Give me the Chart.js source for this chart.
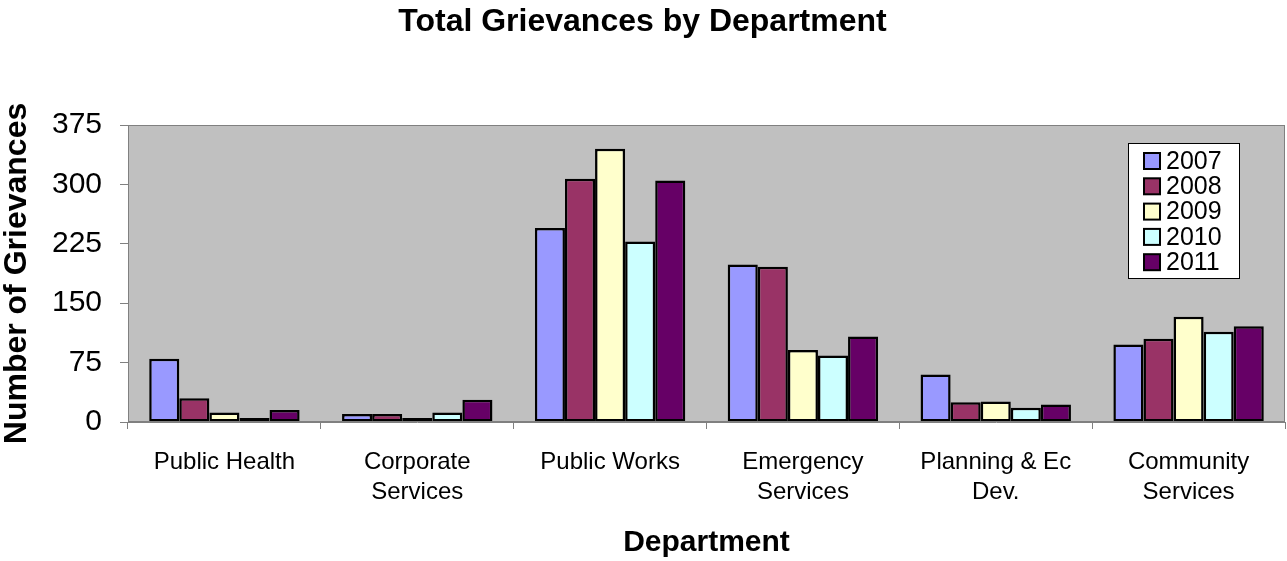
<!DOCTYPE html>
<html>
<head>
<meta charset="utf-8">
<title>Total Grievances by Department</title>
<script src="https://cdn.jsdelivr.net/npm/chart.js@4/dist/chart.umd.min.js"></script>
<style>
  body { margin: 0; background: #fff; }
  #wrap { width: 1287px; height: 561px; }
</style>
</head>
<body>
<div id="wrap"><canvas id="grievanceChart" width="1287" height="561"></canvas></div>
<script>
// departments along the x axis (arrays = two-line labels)
const departments = [
    'Public Health',
    ['Corporate', 'Services'],
    'Public Works',
    ['Emergency', 'Services'],
    ['Planning & Ec', 'Dev.'],
    ['Community', 'Services']
];
const years = ['2007', '2008', '2009', '2010', '2011'];

// grievance counts per department, one array per year
const counts2007 = [80, 10, 245, 199, 60, 98];
const counts2008 = [30, 10, 307, 196, 25, 105];
const counts2009 = [12, 5, 345, 91, 26, 133];
const counts2010 = [5, 12, 228, 84, 18, 114];
const counts2011 = [15, 28, 305, 108, 22, 121];

const yTicks = [0, 75, 150, 225, 300, 375];

const yearColors = ['#9999FF', '#993366', '#FFFFCC', '#CCFFFF', '#660066'];
const FONT = '"Liberation Sans", Arial, sans-serif';

// grey plot background + frame
const plotFrame = {
    id: 'plotFrame',
    beforeDraw(chart) {
        const { ctx, chartArea: a } = chart;
        ctx.save();
        ctx.fillStyle = '#C0C0C0';
        ctx.fillRect(a.left, a.top, a.right - a.left, a.bottom - a.top);
        ctx.restore();
    },
    afterDatasetsDraw(chart) {
        const { ctx, chartArea: a } = chart;
        ctx.save();
        ctx.strokeStyle = '#808080';
        ctx.lineWidth = 1;
        ctx.strokeRect(a.left + 0.5, a.top + 0.5, a.right - a.left - 1, a.bottom - a.top - 1);
        ctx.restore();
    }
};

// legend box drawn inside the plot, top right
const boxLegend = {
    id: 'boxLegend',
    afterDraw(chart) {
        const { ctx, chartArea: a } = chart;
        const sets = chart.data.datasets;
        const x = a.right - 157, y = a.top + 18, w = 111, h = 135;
        ctx.save();
        ctx.fillStyle = '#fff';
        ctx.fillRect(x, y, w, h);
        ctx.strokeStyle = '#000';
        ctx.lineWidth = 1;
        ctx.strokeRect(x + 0.5, y + 0.5, w, h);
        ctx.font = '25px ' + FONT;
        ctx.textBaseline = 'middle';
        sets.forEach((ds, i) => {
            const cy = y + 18 + i * 25.3;
            ctx.fillStyle = ds.backgroundColor;
            ctx.fillRect(x + 16, cy - 8, 16, 16);
            ctx.strokeStyle = '#000';
            ctx.lineWidth = 2;
            ctx.strokeRect(x + 16, cy - 8, 16, 16);
            ctx.fillStyle = '#000';
            ctx.fillText(ds.label, x + 38, cy + 1);
        });
        ctx.restore();
    }
};

const seriesData = [counts2007, counts2008, counts2009, counts2010, counts2011];

new Chart(document.getElementById('grievanceChart'), {
    type: 'bar',
    data: {
        labels: departments,
        datasets: years.map((yr, i) => ({
            label: yr,
            data: seriesData[i],
            backgroundColor: yearColors[i],
            borderColor: '#000',
            borderWidth: 2.5,
            borderSkipped: false,
            categoryPercentage: 0.78,
            barPercentage: 1.0
        }))
    },
    options: {
        responsive: false,
        animation: false,
        layout: { padding: { left: 0, right: 2, top: 0, bottom: 0 } },
        plugins: {
            legend: { display: false },
            tooltip: { enabled: false },
            title: {
                display: true,
                text: 'Total Grievances by Department',
                color: '#000',
                font: { family: FONT, size: 32, weight: 'bold', lineHeight: 1.2 },
                padding: { top: 3, bottom: 83.6 }
            }
        },
        scales: {
            x: {
                afterFit(scale) { scale.height = 139; },
                grid: {
                    offset: true,
                    drawOnChartArea: false,
                    drawTicks: true,
                    tickLength: 7,
                    color: '#808080'
                },
                border: { color: '#808080' },
                ticks: {
                    color: '#000',
                    maxRotation: 0,
                    autoSkip: false,
                    padding: 18,
                    font: { family: FONT, size: 24, lineHeight: 1.25 }
                },
                title: {
                    display: true,
                    text: 'Department',
                    color: '#000',
                    font: { family: FONT, size: 30, weight: 'bold', lineHeight: 1.2 },
                    padding: { top: 0, bottom: 0 }
                }
            },
            y: {
                min: 0,
                max: 375,
                afterFit(scale) { scale.width = 128; },
                afterBuildTicks(scale) { scale.ticks = yTicks.map(v => ({ value: v })); },
                grid: {
                    drawOnChartArea: false,
                    drawTicks: true,
                    tickLength: 8,
                    color: '#808080'
                },
                border: { color: '#808080' },
                ticks: {
                    color: '#000',
                    padding: 18,
                    font: { family: FONT, size: 30 }
                },
                title: {
                    display: true,
                    text: 'Number of Grievances',
                    color: '#000',
                    font: { family: FONT, size: 32, weight: 'bold', lineHeight: 1.1 },
                    padding: { top: 0, bottom: 0 }
                }
            }
        }
    },
    plugins: [plotFrame, boxLegend]
});
</script>
</body>
</html>
